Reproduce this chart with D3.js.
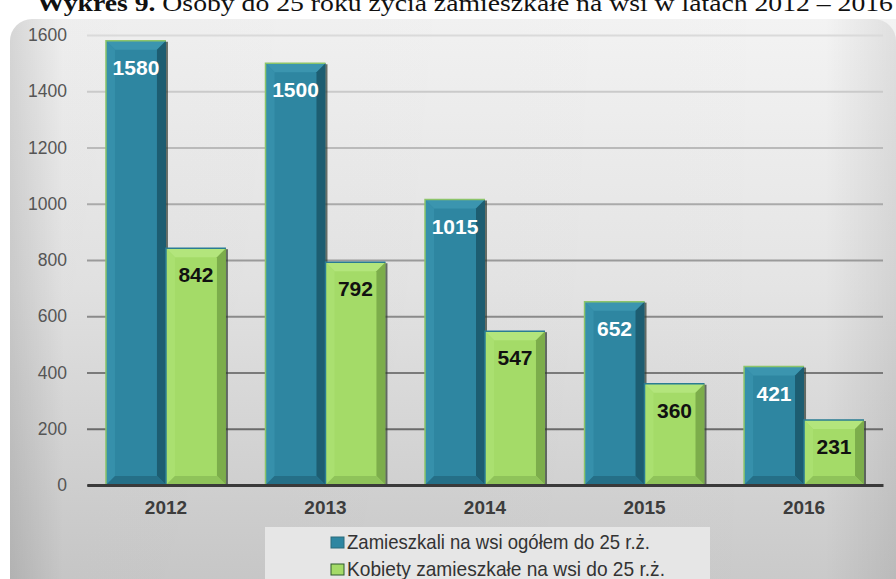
<!DOCTYPE html>
<html>
<head>
<meta charset="utf-8">
<script src="https://cdn.jsdelivr.net/npm/d3@7"></script>
<style>
  body { margin: 0; background: #fff; }
  svg { display: block; }
</style>
</head>
<body>
<svg id="chart" width="896" height="579"></svg>
<script>
var years = ["2012", "2013", "2014", "2015", "2016"];
var ogolem = [1580, 1500, 1015, 652, 421];
var kobiety = [842, 792, 547, 360, 231];
var seriesNames = ["Zamieszkali na wsi ogółem do 25 r.ż.", "Kobiety zamieszkałe na wsi do 25 r.ż."];
var yTicks = [0, 200, 400, 600, 800, 1000, 1200, 1400, 1600];

var svg = d3.select("#chart");
var defs = svg.append("defs");

// panel background
var vg = defs.append("linearGradient").attr("id", "bgv").attr("x1", 0).attr("y1", 0).attr("x2", 0).attr("y2", 1);
vg.append("stop").attr("offset", "0%").attr("stop-color", "#f3f3f3");
vg.append("stop").attr("offset", "45%").attr("stop-color", "#e4e4e4");
vg.append("stop").attr("offset", "100%").attr("stop-color", "#c6c6c6");
var hg = defs.append("linearGradient").attr("id", "bgh").attr("x1", 0).attr("y1", 0).attr("x2", 1).attr("y2", 0);
hg.append("stop").attr("offset", "0%").attr("stop-color", "#000").attr("stop-opacity", 0.12);
hg.append("stop").attr("offset", "6%").attr("stop-color", "#000").attr("stop-opacity", 0.02);
hg.append("stop").attr("offset", "92%").attr("stop-color", "#000").attr("stop-opacity", 0);
hg.append("stop").attr("offset", "100%").attr("stop-color", "#000").attr("stop-opacity", 0.08);

svg.append("rect").attr("x", 10).attr("y", 19).attr("width", 920).attr("height", 600)
  .attr("rx", 22).style("fill", "url(#bgv)");
svg.append("rect").attr("x", 10).attr("y", 19).attr("width", 886).attr("height", 600)
  .attr("rx", 22).style("fill", "url(#bgh)");

// title (cut off at top)
var title = svg.append("text")
  .attr("x", 37).attr("y", 11)
  .attr("textLength", 856).attr("lengthAdjust", "spacingAndGlyphs")
  .style("font-family", "'Liberation Serif', 'Times New Roman', serif")
  .style("font-size", "23px").style("fill", "#111");
title.append("tspan").style("font-weight", "bold").text("Wykres 9.");
title.append("tspan").text(" Osoby do 25 roku życia zamieszkałe na wsi w latach 2012 – 2016");

var plotL = 87, plotR = 883, plotT = 35, plotB = 485;

var x = d3.scaleBand().domain(years).range([plotL, plotR]).paddingInner(0.248).paddingOuter(0.119);
var xs = d3.scaleBand().domain([0, 1]).range([0, x.bandwidth()]);
var y = d3.scaleLinear().domain([0, 1600]).range([plotB, plotT]);
var gridColor = d3.scaleLinear().domain([1600, 0]).range(["#dadada", "#5a5a5a"]);

// gridlines + y labels
var yAxis = svg.append("g").attr("class", "axis axis--y")
  .attr("transform", "translate(" + plotL + ",0)")
  .call(d3.axisLeft(y).tickValues(yTicks).tickSize(-(plotR - plotL)).tickPadding(20).tickFormat(d3.format("d")));
yAxis.select(".domain").remove();
yAxis.selectAll(".tick line")
  .style("stroke", function(d) { return gridColor(d); })
  .style("stroke-width", 2);
yAxis.selectAll(".tick text")
  .style("font-family", "'Liberation Sans', Arial, sans-serif")
  .style("font-size", "17.5px").style("fill", "#555");

var colors = [
  { body: "#2e86a1", top: "#3b95af", right: "#1d5d71", bottom: "#256f87", left: "#3690ab", edge: "#8cc46a", label: "#fff" },
  { body: "#a4db68", top: "#b3e57c", right: "#7cad4b", bottom: "#8fc35a", left: "#aae070", edge: "#2a7c93", label: "#111" }
];

function drawBar(g, bx, by, w, h, c) {
  var b = Math.min(9, h / 2);
  g.append("rect").attr("x", bx).attr("y", by).attr("width", w).attr("height", h).style("fill", c.body);
  g.append("polygon").attr("points", [[bx, by], [bx + w, by], [bx + w - b, by + b], [bx + b, by + b]].join(" ")).style("fill", c.top);
  g.append("polygon").attr("points", [[bx, by], [bx + b, by + b], [bx + b, by + h - b], [bx, by + h]].join(" ")).style("fill", c.left);
  g.append("polygon").attr("points", [[bx + w, by], [bx + w, by + h], [bx + w - b, by + h - b], [bx + w - b, by + b]].join(" ")).style("fill", c.right);
  g.append("polygon").attr("points", [[bx, by + h], [bx + w, by + h], [bx + w - b, by + h - b], [bx + b, by + h - b]].join(" ")).style("fill", c.bottom);
  // thin outline on top / left, dark shadow on right
  g.append("path").attr("d", "M" + bx + "," + (by + h) + "V" + by + "H" + (bx + w))
    .style("fill", "none").style("stroke", c.edge).style("stroke-width", 1.5);
  g.append("line").attr("x1", bx + w + 1).attr("x2", bx + w + 1).attr("y1", by + 1).attr("y2", by + h)
    .style("stroke", "#2f3a30").style("stroke-width", 2).style("opacity", 0.7);
}

var bars = svg.append("g").attr("class", "bars");
[ogolem, kobiety].forEach(function(series, s) {
  series.forEach(function(v, i) {
    var bx = x(years[i]) + xs(s);
    var by = y(v);
    drawBar(bars, bx, by, xs.bandwidth(), y(0) - by, colors[s]);
    bars.append("text")
      .attr("x", bx + xs.bandwidth() / 2).attr("y", by + 34)
      .attr("text-anchor", "middle")
      .style("font-family", "'Liberation Sans', Arial, sans-serif")
      .style("font-weight", "bold").style("font-size", "21px")
      .style("fill", colors[s].label)
      .text(v);
  });
});

// x axis
var xAxis = svg.append("g").attr("class", "axis axis--x")
  .attr("transform", "translate(0," + plotB + ")")
  .call(d3.axisBottom(x).tickSize(0).tickPadding(16));
xAxis.select(".domain").style("stroke", "#3a3a3a").style("stroke-width", 3);
xAxis.selectAll(".tick text")
  .style("font-family", "'Liberation Sans', Arial, sans-serif")
  .style("font-weight", "bold").style("font-size", "19px").style("fill", "#3c3c3c");

// legend
var legend = svg.append("g").attr("class", "legend");
legend.append("rect").attr("x", 265).attr("y", 527).attr("width", 445).attr("height", 60).style("fill", "#e6e6e6");
var legendTexts = [549, 576];
seriesNames.forEach(function(name, s) {
  var ly = legendTexts[s];
  legend.append("rect").attr("x", 331).attr("y", ly - 12).attr("width", 13).attr("height", 11)
    .style("fill", colors[s].body).style("stroke", s ? "#2d5a2d" : "#2a6a7a").style("stroke-width", 1);
  legend.append("text")
    .attr("x", 347).attr("y", ly)
    .attr("textLength", s ? 318 : 303).attr("lengthAdjust", "spacingAndGlyphs")
    .style("font-family", "'Liberation Sans Narrow', 'Liberation Sans', Arial, sans-serif")
    .style("font-size", "21px").style("fill", "#333")
    .text(name);
});
</script>
</body>
</html>
